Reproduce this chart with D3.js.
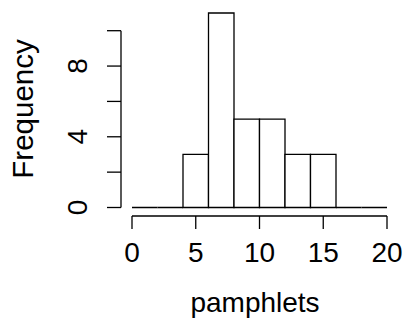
<!DOCTYPE html>
<html>
<head>
<meta charset="utf-8">
<script src="https://cdn.jsdelivr.net/npm/d3@7"></script>
<style>
  body { margin: 0; background: #fff; }
  text { font-family: "Liberation Sans", Arial, sans-serif; fill: #000; }
</style>
</head>
<body>
<svg id="chart" width="406" height="326"></svg>
<script>
// histogram bins (breaks every 2) and counts
const binStarts = [0, 2, 4, 6, 8, 10, 12, 14, 16, 18];
const binWidth = 2;
const counts = [0, 0, 3, 11, 5, 5, 3, 3, 0, 0];
const xTicks = [0, 5, 10, 15, 20];
const yTicks = [0, 2, 4, 6, 8, 10];
const yLabels = [0, 4, 8];

const svg = d3.select("#chart");
const x = d3.scaleLinear().domain([0, 20]).range([132, 387]);
const y = d3.scaleLinear().domain([0, 10]).range([207.5, 30.7]);
const sw = 1.3;

const bins = binStarts.map((s, i) => ({x0: s, x1: s + binWidth, n: counts[i]}));

// bars (paths so zero-height bins still show as a line)
svg.append("g").selectAll("path")
  .data(bins)
  .join("path")
  .attr("d", d => `M${x(d.x0)},${y(0)}V${y(d.n)}H${x(d.x1)}V${y(0)}Z`)
  .attr("fill", "#fff")
  .attr("stroke", "#000")
  .attr("stroke-width", sw);

// x axis
const xAxis = svg.append("g").attr("transform", "translate(0,216)");
xAxis.append("line")
  .attr("x1", x(0)).attr("x2", x(20))
  .attr("stroke", "#000").attr("stroke-width", sw);
xAxis.selectAll(".tk").data(xTicks).join("line")
  .attr("x1", d => x(d)).attr("x2", d => x(d))
  .attr("y1", 0).attr("y2", 13)
  .attr("stroke", "#000").attr("stroke-width", sw);
xAxis.selectAll("text").data(xTicks).join("text")
  .attr("x", d => x(d)).attr("y", 46)
  .attr("text-anchor", "middle")
  .style("font-size", "28px")
  .text(d => d);

// y axis
const yAxis = svg.append("g").attr("transform", "translate(121,0)");
yAxis.append("line")
  .attr("y1", y(0)).attr("y2", y(10))
  .attr("stroke", "#000").attr("stroke-width", sw);
yAxis.selectAll(".tk").data(yTicks).join("line")
  .attr("x1", 0).attr("x2", -14)
  .attr("y1", d => y(d)).attr("y2", d => y(d))
  .attr("stroke", "#000").attr("stroke-width", sw);
yAxis.selectAll("text").data(yLabels).join("text")
  .attr("transform", d => `translate(-34,${y(d)}) rotate(-90)`)
  .attr("text-anchor", "middle")
  .style("font-size", "28px")
  .text(d => d);

// axis titles
svg.append("text")
  .attr("x", 255).attr("y", 312)
  .attr("text-anchor", "middle")
  .style("font-size", "28px")
  .text("pamphlets");
svg.append("text")
  .attr("transform", "translate(33,109) rotate(-90)")
  .attr("text-anchor", "middle")
  .style("font-size", "29.5px")
  .text("Frequency");
</script>
</body>
</html>
